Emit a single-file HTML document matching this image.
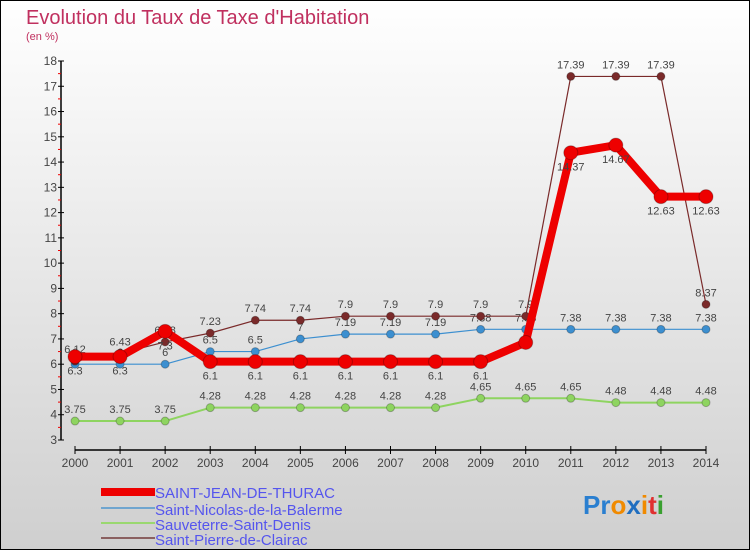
<!DOCTYPE html>
<html><head><meta charset="utf-8"><style>
body{margin:0;width:750px;height:550px;overflow:hidden}
svg{display:block;font-family:"Liberation Sans",sans-serif}
</style></head><body>
<svg width="750" height="550" viewBox="0 0 750 550">
<defs><linearGradient id="bg" x1="0" y1="0" x2="0" y2="1"><stop offset="0" stop-color="#ffffff"/><stop offset="1" stop-color="#cfcfcf"/></linearGradient></defs>
<rect x="0.5" y="0.5" width="749" height="549" fill="url(#bg)" stroke="#000"/>
<text x="26" y="24" font-size="20" fill="#c0305f">Evolution du Taux de Taxe d'Habitation</text>
<text x="26" y="40" font-size="11" fill="#c0305f">(en %)</text>
<g id="axes"></g><g id="series"></g>
<g>
<rect x="101" y="488" width="54" height="8" fill="#ee0000"/>
<text x="155" y="498" font-size="15" fill="#5555ee">SAINT-JEAN-DE-THURAC</text>
<rect x="101" y="507" width="54" height="2" fill="#6fa5cf"/>
<text x="155" y="515" font-size="15" fill="#5555ee">Saint-Nicolas-de-la-Balerme</text>
<rect x="101" y="522" width="54" height="2" fill="#9ad870"/>
<text x="155" y="530" font-size="15" fill="#5555ee">Sauveterre-Saint-Denis</text>
<rect x="101" y="537" width="54" height="2" fill="#8a6060"/>
<text x="155" y="545" font-size="15" fill="#5555ee">Saint-Pierre-de-Clairac</text>
</g>
<text x="583" y="514" font-size="26" font-weight="bold"><tspan fill="#2a7fd0">Pr</tspan><tspan fill="#f08a00">o</tspan><tspan fill="#1f6ec0">x</tspan><tspan fill="#f08a00">i</tspan><tspan fill="#e03030">t</tspan><tspan fill="#3aa030">i</tspan></text>
</svg>
<script>
const years=[2000,2001,2002,2003,2004,2005,2006,2007,2008,2009,2010,2011,2012,2013,2014];
const yTicks=[3,4,5,6,7,8,9,10,11,12,13,14,15,16,17,18];
const stJean=[6.3,6.3,7.3,6.1,6.1,6.1,6.1,6.1,6.1,6.1,6.86,14.37,14.67,12.63,12.63];
const stJeanLabels=["6.3","6.3","7.3","6.1","6.1","6.1","6.1","6.1","6.1","6.1","","14.37","14.67","12.63","12.63"];
const stNicolas=[6,6,6,6.5,6.5,7,7.19,7.19,7.19,7.38,7.38,7.38,7.38,7.38,7.38];
const sauveterre=[3.75,3.75,3.75,4.28,4.28,4.28,4.28,4.28,4.28,4.65,4.65,4.65,4.48,4.48,4.48];
const stPierre=[6.12,6.43,6.88,7.23,7.74,7.74,7.9,7.9,7.9,7.9,7.9,17.39,17.39,17.39,8.37];
const NS="http://www.w3.org/2000/svg";
const x=i=>75+i*(706-75)/(years.length-1);
const y=v=>440-(v-3)*(440-61)/15;
function mk(tag,attrs,parent){const e=document.createElementNS(NS,tag);for(const k in attrs)e.setAttribute(k,attrs[k]);parent.appendChild(e);return e;}
const ax=document.getElementById('axes');
let e=mk('line',{x1:61,y1:y(18),x2:61,y2:440,stroke:'#000','stroke-width':1.5},ax);


e=mk('line',{x1:x(0),y1:450,x2:x(14),y2:450,stroke:'#000','stroke-width':1.5},ax);


yTicks.forEach(t=>{
 mk('line',{x1:58,y1:y(t),x2:64,y2:y(t),stroke:'#000'},ax);
 if(t<18)mk('line',{x1:58,y1:y(t+0.5),x2:61,y2:y(t+0.5),stroke:'#e00'},ax);
 e=mk('text',{x:57,y:y(t)+4,'font-size':12,'text-anchor':'end',fill:'#444'},ax);
 
 
 e.textContent=t;
});
years.forEach((yr,i)=>{
 mk('line',{x1:x(i),y1:446,x2:x(i),y2:454,stroke:'#000'},ax);
 e=mk('text',{x:x(i),y:467,'font-size':12,'text-anchor':'middle',fill:'#444'},ax);
 
 
 e.textContent=yr;
});
const sg=document.getElementById('series');
function series(name,vals,labels,color,w,r,labelBelow){
 const g=mk('g',{},sg);
 
 
 const pl=mk('polyline',{points:vals.map((v,i)=>x(i)+','+y(v)).join(' '),fill:'none',stroke:color,'stroke-width':w,'stroke-linejoin':'round'},g);
 
 
 vals.forEach((v,i)=>{
  const c=mk('circle',{cx:x(i),cy:y(v),r:r,fill:color,stroke:'rgba(0,0,0,0.25)'},g);
  
  
  const lab=labels?labels[i]:String(v);
  if(lab){const t=mk('text',{x:x(i),y:labelBelow?y(v)+18:y(v)-8,'font-size':11,'text-anchor':'middle',fill:'#444'},g);
  
  
  t.textContent=lab;}
 });
}
series('sauveterre-series',sauveterre,null,'#8ed460',2,4,false);
series('saint-nicolas-series',stNicolas,null,'#3c8fd0',1.2,4,false);
series('saint-pierre-series',stPierre,null,'#7a2a2a',1.2,4,false);
series('saint-jean-series',stJean,stJeanLabels,'#ee0000',8,7,true);
</script>
</body></html>
